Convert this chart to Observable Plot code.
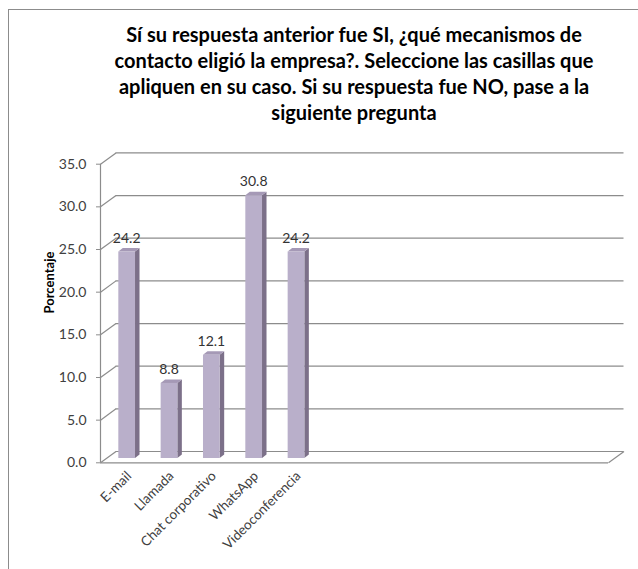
<!DOCTYPE html>
<html><head><meta charset="utf-8">
<script src="https://cdn.jsdelivr.net/npm/d3@7"></script>
<script src="https://cdn.jsdelivr.net/npm/@observablehq/plot@0.6"></script>
<style>
html,body{margin:0;padding:0;background:#fff;overflow:hidden;width:638px;height:569px;}
#wrap{position:relative;width:638px;height:569px;overflow:hidden;font-family:Lato,sans-serif;}
#title{position:relative;height:140px;box-sizing:border-box;padding-top:21px;margin-left:8px;width:692px;text-align:center;font-weight:700;font-size:20px;line-height:26px;color:#000;white-space:nowrap;}
#chart{position:relative;height:429px;}
#border{position:absolute;left:8px;top:9px;width:760px;height:760px;border:1px solid #8c8c8c;box-sizing:border-box;pointer-events:none;}
</style></head><body>
<div id="wrap">
  <div id="title"></div>
  <div id="chart"></div>
  <div id="border"></div>
</div>
<script>
// ---- data ----
const titleLines = [
  "Sí su respuesta anterior fue SI, ¿qué mecanismos de",
  "contacto eligió la empresa?. Seleccione las casillas que",
  "apliquen en su caso. Si su respuesta fue NO, pase a la",
  "siguiente pregunta"
];
const categories = ["E-mail", "Llamada", "Chat corporativo", "WhatsApp", "Videoconferencia"];
const values = [24.2, 8.8, 12.1, 30.8, 24.2];
const yTicks = [0, 5, 10, 15, 20, 25, 30, 35];
const yLabel = "Porcentaje";

// ---- layout ----
const W = 638, H = 429, mL = 100, mR = 30, mT = 23.7, mB = 106.7;
const slotCount = 12;            // category slots on the original axis
const yMax = 35;
const pxSlot = (W - mL - mR) / slotCount;
const pxUnit = (H - mT - mB) / yMax;
const DX = 15.5, DY = -11.3;     // wall depth (px)
const bdx = 5.5, bdy = -4.3;     // bar depth position (px)
const hw = 8.35 / pxSlot;        // bar half width (slot units)
const sx = 4.5 / pxSlot, sy = 3.5 / pxUnit; // bar side/top depth
const dXd = DX / pxSlot, dYd = -DY / pxUnit;
const xMin = -0.5, xMax = slotCount - 0.5;

const cFront = "#b9afca", cSide = "#7c7089", cTop = "#a599b6", cGrid = "#8c8c8c", cText = "#404040";

document.getElementById("title").innerHTML = titleLines.join("<br>");

const rows = categories.map((c, i) => ({cat: c, i, v: values[i]}));
const sideFaces = rows.flatMap(d => [
  {i: d.i, x: d.i + hw, y1: 0, y2: d.v},
  {i: d.i, x: d.i + hw + sx, y1: sy, y2: d.v + sy}
]);
const topFaces = rows.flatMap(d => [
  {i: d.i, x: d.i - hw, y1: d.v, y2: d.v},
  {i: d.i, x: d.i - hw + sx, y1: d.v, y2: d.v + sy},
  {i: d.i, x: d.i + hw, y1: d.v, y2: d.v + sy},
  {i: d.i, x: d.i + hw + sx, y1: d.v + sy, y2: d.v + sy}
]);

const chart = Plot.plot({
  width: W, height: H,
  marginLeft: mL, marginRight: mR, marginTop: mT, marginBottom: mB,
  x: {type: "linear", domain: [xMin, xMax], axis: null},
  y: {domain: [0, yMax], axis: null},
  style: {fontFamily: "Lato, sans-serif", fontSize: "14px", background: "transparent", overflow: "visible"},
  marks: [
    Plot.ruleY(yTicks, {stroke: cGrid, strokeWidth: 1.2, dx: DX, dy: DY}),
    Plot.link(yTicks, {x1: xMin, x2: xMin + dXd, y1: d => d, y2: d => d + dYd, stroke: cGrid, strokeWidth: 1.2}),
    Plot.ruleY([0], {stroke: cGrid, strokeWidth: 1.2}),
    Plot.link([0], {x1: xMax, x2: xMax + dXd, y1: 0, y2: dYd, stroke: cGrid, strokeWidth: 1.2}),
    Plot.ruleX([xMin], {y1: 0, y2: yMax, stroke: cGrid, strokeWidth: 1.2}),
    Plot.axisY(yTicks, {x: xMin, tickSize: 4, tickPadding: 10, tickFormat: d3.format(".1f"), stroke: cGrid, fill: cText, fontSize: 14, label: null}),
    Plot.areaY(sideFaces, {x: "x", y1: "y1", y2: "y2", z: "i", fill: cSide, dx: bdx, dy: bdy, curve: "linear"}),
    Plot.areaY(topFaces, {x: "x", y1: "y1", y2: "y2", z: "i", fill: cTop, dx: bdx, dy: bdy, curve: "linear"}),
    Plot.rect(rows, {x1: d => d.i - hw, x2: d => d.i + hw, y1: 0, y2: "v", fill: cFront, dx: bdx, dy: bdy}),
    Plot.text(rows, {x: "i", y: "v", text: d => d.v.toFixed(1), dx: bdx - 0.5, dy: bdy - 14, fontSize: 14, fill: "#333"}),
    Plot.text(rows, {x: "i", y: 0, text: "cat", rotate: -45, textAnchor: "end", dx: bdx + 2, dy: 11, fontSize: 13.5, fill: cText}),
    Plot.text([yLabel], {frameAnchor: "left", rotate: -90, dx: -51, fontWeight: "bold", fontSize: 13, fill: "#000"})
  ]
});
document.getElementById("chart").appendChild(chart);
</script>
</body></html>
